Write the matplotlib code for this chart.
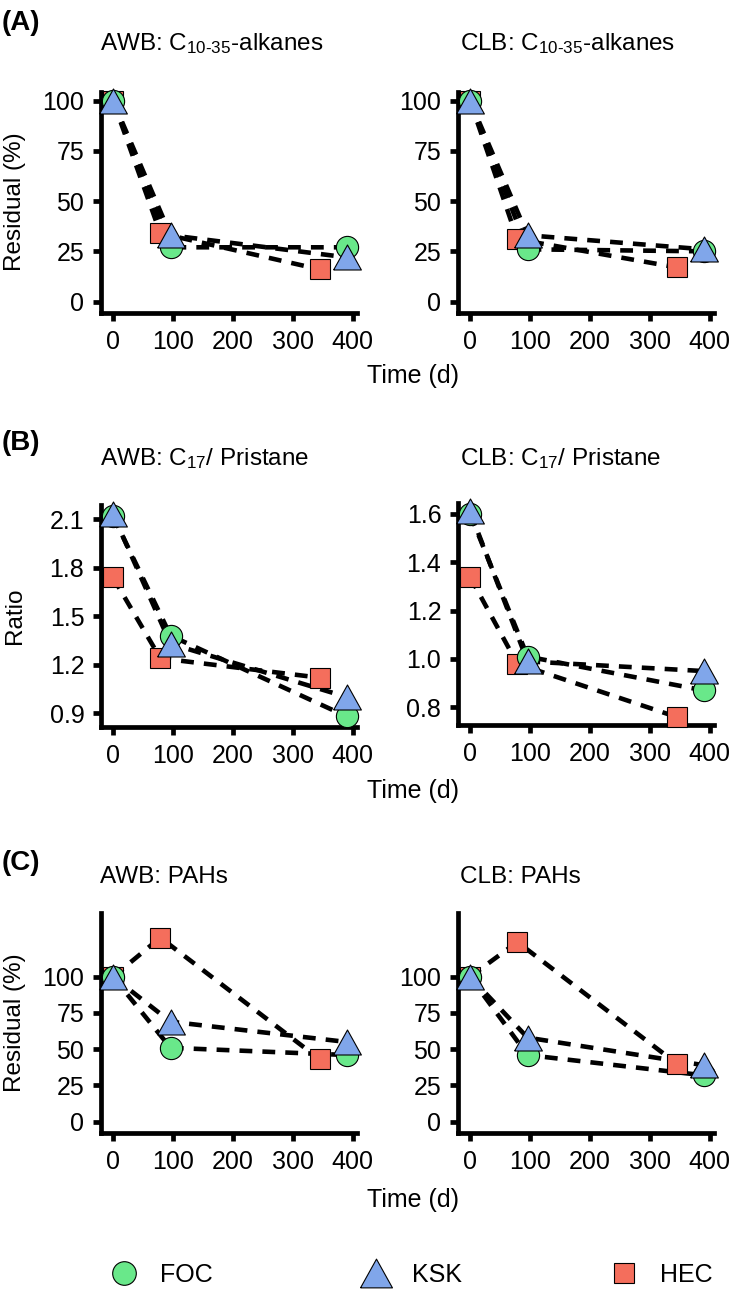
import matplotlib
matplotlib.use("Agg")
import matplotlib.pyplot as plt
from matplotlib.lines import Line2D

plt.rcParams["font.family"] = ["Liberation Sans", "DejaVu Sans"]
plt.rcParams["mathtext.fontset"] = "custom"
plt.rcParams["mathtext.rm"] = "Liberation Sans"
plt.rcParams["mathtext.it"] = "Liberation Sans:italic"
plt.rcParams["mathtext.bf"] = "Liberation Sans:bold"

# sampling days
days_foc_ksk = [0, 96, 390]
days_hec = [0, 79, 345]

# (A) C10-35 alkanes, residual %
awb_alk_foc = [100, 27, 27]
awb_alk_ksk = [100, 33, 22]
awb_alk_hec = [100, 34, 16]
clb_alk_foc = [100, 26, 25]
clb_alk_ksk = [100, 33, 26]
clb_alk_hec = [100, 31, 17]

# (B) C17 / pristane ratio
awb_rat_foc = [2.12, 1.38, 0.88]
awb_rat_ksk = [2.13, 1.33, 1.00]
awb_rat_hec = [1.74, 1.24, 1.12]
clb_rat_foc = [1.60, 1.01, 0.87]
clb_rat_ksk = [1.61, 0.99, 0.95]
clb_rat_hec = [1.34, 0.98, 0.76]

# (C) PAHs, residual %
awb_pah_foc = [100, 51, 46]
awb_pah_ksk = [100, 69, 55]
awb_pah_hec = [100, 127, 43]
clb_pah_foc = [100, 46, 32]
clb_pah_ksk = [100, 58, 39]
clb_pah_hec = [100, 124, 40]

sites = ["FOC", "KSK", "HEC"]
x_ticks = [0, 100, 200, 300, 400]
pct_ticks = [0, 25, 50, 75, 100]
awb_ratio_ticks = [0.9, 1.2, 1.5, 1.8, 2.1]
clb_ratio_ticks = [0.8, 1.0, 1.2, 1.4, 1.6]

GREEN = "#69E88A"
BLUE = "#80A6EA"
RED = "#F46E5C"
TRI = [(-1, -0.9), (1, -0.9), (0, 0.9), (-1, -0.9)]

W, H = 735, 1291
fig = plt.figure(figsize=(W / 100, H / 100), dpi=100)


def box(x0, y0, x1, y1):
    return [x0 / W, 1 - y1 / H, (x1 - x0) / W, (y1 - y0) / H]


def panel(rect, foc, ksk, hec, ylim, yticks, fmt):
    ax = fig.add_axes(box(*rect))
    for d, v in [(days_foc_ksk, foc), (days_foc_ksk, ksk), (days_hec, hec)]:
        ax.plot(d, v, color="black", lw=3.3, ls=(0, (2.8, 2.2)), zorder=2)
    ax.plot(days_hec, hec, ls="none", marker="s", ms=14, mfc=RED, mec="black",
            mew=0.8, zorder=3, clip_on=False)
    ax.plot(days_foc_ksk, foc, ls="none", marker="o", ms=16, mfc=GREEN, mec="black",
            mew=0.8, zorder=4, clip_on=False)
    ax.plot(days_foc_ksk, ksk, ls="none", marker=TRI, ms=20, mfc=BLUE, mec="black",
            mew=0.8, zorder=5, clip_on=False)
    ax.set_xlim(-20, 407)
    ax.set_ylim(*ylim)
    ax.set_xticks(x_ticks)
    ax.set_yticks(yticks)
    ax.set_yticklabels([fmt.format(t) for t in yticks])
    for s in ["top", "right"]:
        ax.spines[s].set_visible(False)
    for s in ["left", "bottom"]:
        ax.spines[s].set_linewidth(3.4)
    ax.tick_params(width=3.4, length=6, labelsize=18, pad=6)
    return ax


# row A
panel((101, 92, 357, 313), awb_alk_foc, awb_alk_ksk, awb_alk_hec, (-5.7, 104.3), pct_ticks, "{:d}")
panel((458, 92, 714, 313), clb_alk_foc, clb_alk_ksk, clb_alk_hec, (-5.7, 104.3), pct_ticks, "{:d}")
# row B
panel((101, 505, 357, 727), awb_rat_foc, awb_rat_ksk, awb_rat_hec, (0.815, 2.188), awb_ratio_ticks, "{:.1f}")
panel((458, 503, 714, 725), clb_rat_foc, clb_rat_ksk, clb_rat_hec, (0.727, 1.645), clb_ratio_ticks, "{:.1f}")
# row C
panel((101, 913, 357, 1133), awb_pah_foc, awb_pah_ksk, awb_pah_hec, (-7.8, 144), pct_ticks, "{:d}")
panel((458, 913, 714, 1133), clb_pah_foc, clb_pah_ksk, clb_pah_hec, (-7.8, 144), pct_ticks, "{:d}")


def ftext(x, y, s, **kw):
    fig.text(x / W, 1 - y / H, s, **kw)


# panel letters
for lab, y in [("(A)", 30), ("(B)", 450), ("(C)", 870)]:
    ftext(2, y, lab, fontsize=20, fontweight="bold", va="baseline")

# titles
titles = [
    (r"AWB: C$_{10\text{-}35}$-alkanes", r"CLB: C$_{10\text{-}35}$-alkanes", 50),
    (r"AWB: C$_{17}$/ Pristane", r"CLB: C$_{17}$/ Pristane", 465),
    ("AWB: PAHs", "CLB: PAHs", 883),
]
for left, right, y in titles:
    ftext(100, y, left, fontsize=17.5, va="baseline")
    ftext(460, y, right, fontsize=17.5, va="baseline")

# axis labels
ftext(15, 202, "Residual (%)", fontsize=17.5, rotation=90, ha="center", va="center")
ftext(15, 616, "Ratio", fontsize=17.5, rotation=90, ha="center", va="center")
ftext(15, 1023, "Residual (%)", fontsize=17.5, rotation=90, ha="center", va="center")
for y in [383, 798, 1207]:
    ftext(367, y, "Time (d)", fontsize=18, va="baseline")

# legend
handles = [
    Line2D([], [], ls="none", marker="o", ms=17, mfc=GREEN, mec="black", mew=0.8),
    Line2D([], [], ls="none", marker=TRI, ms=23, mfc=BLUE, mec="black", mew=0.8),
    Line2D([], [], ls="none", marker="s", ms=14.5, mfc=RED, mec="black", mew=0.8),
]
fig.legend(handles, sites, loc="center", bbox_to_anchor=(411 / W, 1 - 1275 / H),
           ncol=3, frameon=False, fontsize=18, handlelength=1.2, handletextpad=0.84,
           columnspacing=5.9, borderaxespad=0)

fig.savefig("out.png", dpi=100)
